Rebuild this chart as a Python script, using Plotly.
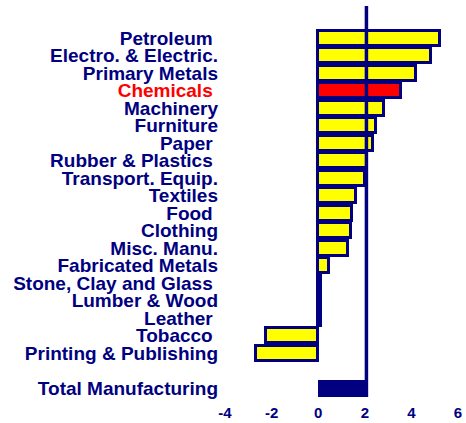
import plotly.graph_objects as go

# Industry labels, top to bottom
industries = [
    "Petroleum ", "Electro. & Electric.", "Primary Metals", "Chemicals ",
    "Machinery", "Furniture", "Paper ", "Rubber & Plastics ", "Transport. Equip.",
    "Textiles", "Food ", "Clothing", "Misc. Manu.", "Fabricated Metals",
    "Stone, Clay and Glass ", "Lumber & Wood", "Leather ", "Tobacco ",
    "Printing & Publishing",
]
growth = [5.22, 4.86, 4.2, 3.55, 2.82, 2.48, 2.37, 2.1, 2.0, 1.62, 1.46, 1.4,
          1.29, 0.47, 0.1, 0.1, 0.1, -2.22, -2.67]
highlight = "Chemicals "

total_label = "Total Manufacturing"
total_value = 2.07

x_ticks = [-4, -2, 0, 2, 4, 6]

NAVY = "#000080"
FONT = "Liberation Sans, Arial, sans-serif"

ypos = list(range(len(industries)))
total_pos = len(industries) + 1

fill = ["#FF0000" if n == highlight else "#FFFF00" for n in industries]

fig = go.Figure()
fig.add_trace(go.Bar(
    x=growth, y=ypos, orientation="h", width=0.86,
    marker=dict(color=fill, line=dict(color=NAVY, width=3)),
    hoverinfo="x",
))
fig.add_trace(go.Bar(
    x=[total_value], y=[total_pos], orientation="h", width=0.97,
    marker=dict(color=NAVY, line=dict(width=0)),
    hoverinfo="x",
))

# reference line at the total manufacturing value
fig.add_shape(type="line", xref="x", yref="paper",
              x0=total_value, x1=total_value, y0=0, y1=1,
              line=dict(color=NAVY, width=3.5))

def tick_text(name):
    label = name.replace(" ", "\u00a0") if name.endswith(" ") else name
    if name == highlight:
        return f'<span style="color:#FF0000">{label}</span>'
    return label

fig.update_layout(
    width=466, height=423,
    margin=dict(l=225, r=8, t=6, b=26, autoexpand=False),
    paper_bgcolor="white", plot_bgcolor="white",
    showlegend=False, bargap=0,
    font=dict(family=FONT, color=NAVY),
    xaxis=dict(range=[-4, 6], tickvals=x_ticks, automargin=False,
               ticktext=[f"<b>{v}</b>" for v in x_ticks],
               showgrid=False, zeroline=False, showline=False,
               ticklabelstandoff=5,
               tickfont=dict(size=15, color=NAVY, family=FONT)),
    yaxis=dict(range=[20.5, -1.83], tickvals=ypos + [total_pos], automargin=False,
               ticktext=[f"<b>{tick_text(n)}</b>" for n in industries] + [f"<b>{total_label}</b>"],
               showgrid=False, zeroline=False, showline=False,
               ticklabelstandoff=6,
               tickfont=dict(size=19, color=NAVY, family=FONT)),
)

fig.write_html("out.html")
